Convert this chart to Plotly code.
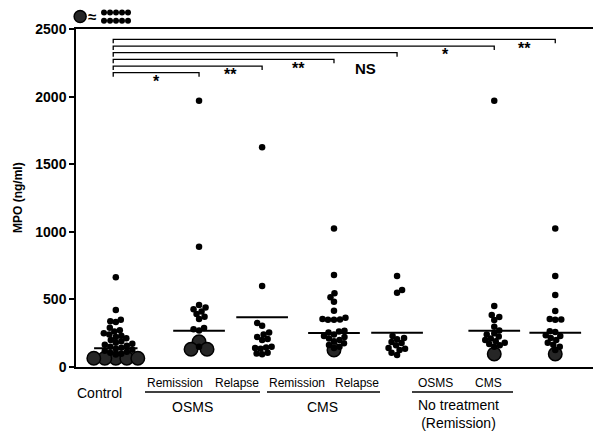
import plotly.graph_objects as go

# ---------------- data ----------------
groups = ["Control", "OSMS Remission", "OSMS Relapse", "CMS Remission",
          "CMS Relapse", "No treatment OSMS", "No treatment CMS"]

control_small = [663, 421, 350, 338, 332, 290, 272, 262, 250, 240, 232, 222, 212,
                 200, 190, 180, 172, 165, 158, 150, 142, 135, 128, 120, 112, 105, 98, 92]
control_large = [65, 65, 65, 65, 65]
osms_rem_small = [1970, 890, 459, 440, 427, 410, 392, 372, 355, 288, 280, 270, 150]
osms_rem_large = [187, 131, 131]
osms_rel_small = [1625, 600, 325, 305, 255, 240, 222, 207, 200, 150, 145, 140, 135, 105, 100, 95]
osms_rel_large = []
cms_rem_small = [1025, 680, 545, 515, 483, 416, 365, 355, 352, 350, 350, 268, 262, 255,
                 240, 229, 222, 210, 200, 190, 175, 163, 150, 140]
cms_rem_large = [126]
cms_rel_small = [673, 569, 550, 230, 215, 205, 185, 177, 160, 140, 135, 126, 105, 89]
cms_rel_large = []
nt_osms_small = [1970, 451, 385, 370, 348, 298, 270, 250, 240, 225, 210, 200, 190, 180,
                 170, 160, 150]
nt_osms_large = [96]
nt_cms_small = [1025, 673, 533, 414, 355, 352, 350, 265, 258, 235, 229, 215, 200, 180,
                165, 150, 126]
nt_cms_large = [96]

means = [138, 269, 368, 252, 254, 269, 254]

sig_heights = [2177, 2226, 2276, 2325, 2374, 2424]
sig_labels = ["*", "**", "**", "NS", "*", "**"]
sig_targets = [1, 2, 3, 4, 5, 6]

yticks = [0, 500, 1000, 1500, 2000, 2500]

small_sets = [control_small, osms_rem_small, osms_rel_small, cms_rem_small,
              cms_rel_small, nt_osms_small, nt_cms_small]
large_sets = [control_large, osms_rem_large, osms_rel_large, cms_rem_large,
              cms_rel_large, nt_osms_large, nt_cms_large]

# ---------------- layout constants ----------------
W, H = 593, 432
ML, MR, MT, MB = 76, 0, 5, 65
plot_w = W - ML - MR
plot_h = H - MT - MB
main_top_px = 29
y_dom_top = (H - MB - main_top_px) / plot_h
XMAX = 10.0
PX_PER_X = plot_w / XMAX
PX_PER_Y = (H - MB - main_top_px) / 2500.0

pos = [0.77, 2.38, 3.60, 4.99, 6.21, 8.09, 9.27]

D_SMALL, D_LARGE = 6.5, 13.5


def swarm(items):
    placed = []
    out = []
    flip = 1
    for v, d in items:
        y = v * PX_PER_Y
        best = None
        for k in range(0, 400):
            cands = [0.0] if k == 0 else [flip * k * 0.5, -flip * k * 0.5]
            for x in cands:
                ok = True
                for px, py, pd in placed:
                    if d > 10 and pd > 10:
                        f = 0.8
                    elif d > 10 or pd > 10:
                        continue  # small dots may sit on the big ones
                    else:
                        f = 0.85
                    if (x - px) ** 2 + (y - py) ** 2 < ((d + pd) / 2 * f) ** 2:
                        ok = False
                        break
                if ok:
                    best = x
                    break
            if best is not None:
                break
        flip = -flip
        placed.append((best, y, d))
        out.append(best / PX_PER_X)
    return out


sx, sy, lx, ly = [], [], [], []
for i in range(len(groups)):
    items = [(v, D_LARGE) for v in large_sets[i]] + \
            [(v, D_SMALL) for v in sorted(small_sets[i])]
    offs = swarm(items)
    nL = len(large_sets[i])
    for j, (v, d) in enumerate(items):
        if j < nL:
            lx.append(pos[i] + offs[j]); ly.append(v)
        else:
            sx.append(pos[i] + offs[j]); sy.append(v)

fig = go.Figure()

# mean lines
mx, my = [], []
for i, m in enumerate(means):
    hw = 0.42 if i == 0 else 0.5
    mx += [pos[i] - hw, pos[i] + hw, None]
    my += [m, m, None]
fig.add_trace(go.Scatter(x=mx, y=my, mode="lines", line=dict(color="black", width=2),
                         hoverinfo="skip", showlegend=False))

fig.add_trace(go.Scatter(x=lx, y=ly, mode="markers", cliponaxis=False,
                         marker=dict(size=D_LARGE, color="#262626",
                                     line=dict(color="black", width=1.5)),
                         showlegend=False))
fig.add_trace(go.Scatter(x=sx, y=sy, mode="markers", cliponaxis=False,
                         marker=dict(size=D_SMALL, color="black", line=dict(width=0)),
                         showlegend=False))

# significance brackets
bx, by = [], []
tick = 30
start = pos[0] - 0.05
for h, t in zip(sig_heights, sig_targets):
    bx += [start, start, pos[t], pos[t], None]
    by += [h - tick, h, h, h - tick, None]
fig.add_trace(go.Scatter(x=bx, y=by, mode="lines", line=dict(color="black", width=1.3),
                         hoverinfo="skip", showlegend=False))

annotations = []
for k, (h, lab, t) in enumerate(zip(sig_heights, sig_labels, sig_targets)):
    prev = pos[t - 1] if t > 1 else start
    xm = (prev + pos[t]) / 2
    if lab == "NS":
        annotations.append(dict(x=xm, y=h - 40, xref="x", yref="y", text="NS",
                                showarrow=False, yanchor="top",
                                font=dict(size=15, color="black", family="Liberation Sans",
                                          weight="bold")))
    else:
        annotations.append(dict(x=xm, y=h + 12, xref="x", yref="y", text=lab,
                                showarrow=False, yanchor="top",
                                font=dict(size=16, color="black", family="Liberation Sans",
                                          weight="bold")))

# legend key (big circle = 10 dots)
key_dx = [0.542 + 0.116 * c for c in range(5)] * 2
key_dy = [0.66] * 5 + [0.28] * 5
fig.add_trace(go.Scatter(x=[0.08], y=[0.47], xaxis="x2", yaxis="y2", mode="markers",
                         cliponaxis=False,
                         marker=dict(size=12, color="#262626", line=dict(color="black", width=1.5)),
                         showlegend=False, hoverinfo="skip"))
fig.add_trace(go.Scatter(x=key_dx, y=key_dy, xaxis="x2", yaxis="y2", mode="markers",
                         cliponaxis=False,
                         marker=dict(size=6, color="black"), showlegend=False,
                         hoverinfo="skip"))
annotations.append(dict(x=0.30, y=0.47, xref="x2", yref="y2", text="≈", showarrow=False,
                        font=dict(size=15, color="black", family="Liberation Sans",
                                  weight="bold")))


def py_paper(p):
    return (H - MB - p) / plot_h


def xu(p):
    return (p - ML) / PX_PER_X


lab_font = dict(family="Liberation Sans", color="black")
sub_labels = [("Remission", 175), ("Relapse", 237), ("Remission", 297), ("Relapse", 357),
              ("OSMS", 435), ("CMS", 488)]
for txt, xp in sub_labels:
    annotations.append(dict(x=xu(xp), y=py_paper(383), xref="x", yref="paper", text=txt,
                            showarrow=False, yanchor="middle", xanchor="center",
                            font=dict(size=12, **lab_font)))
annotations.append(dict(x=xu(99), y=py_paper(393), xref="x", yref="paper", text="Control",
                        showarrow=False, yanchor="middle", xanchor="center",
                        font=dict(size=14, **lab_font)))
annotations.append(dict(x=xu(192), y=py_paper(407), xref="x", yref="paper", text="OSMS",
                        showarrow=False, yanchor="middle", xanchor="center",
                        font=dict(size=14, **lab_font)))
annotations.append(dict(x=xu(322), y=py_paper(407), xref="x", yref="paper", text="CMS",
                        showarrow=False, yanchor="middle", xanchor="center",
                        font=dict(size=14, **lab_font)))
annotations.append(dict(x=xu(458), y=py_paper(414), xref="x", yref="paper",
                        text="No treatment<br>(Remission)",
                        showarrow=False, yanchor="middle", xanchor="center",
                        font=dict(size=14, **lab_font)))
annotations.append(dict(x=(18 - ML) / plot_w, y=y_dom_top / 2, xref="paper", yref="paper",
                        text="MPO (ng/ml)", textangle=-90, showarrow=False,
                        xanchor="center", yanchor="middle",
                        font=dict(size=12, family="Liberation Sans", color="black",
                                  weight="bold")))

shapes = []
for a, b in [(145, 260), (267, 380), (412, 513)]:
    shapes.append(dict(type="line", xref="x", yref="paper", x0=xu(a), x1=xu(b),
                       y0=py_paper(392), y1=py_paper(392),
                       line=dict(color="black", width=1.5)))

fig.update_layout(
    width=W, height=H,
    margin=dict(l=ML, r=MR, t=MT, b=MB),
    paper_bgcolor="white", plot_bgcolor="white",
    xaxis=dict(range=[0, XMAX], showline=True, linecolor="black", linewidth=1.5,
               mirror=True, showticklabels=False, ticks="", showgrid=False,
               zeroline=False, domain=[0, 1]),
    yaxis=dict(range=[0, 2500], domain=[0, y_dom_top], showline=True, linecolor="black",
               linewidth=1.5, ticks="outside", ticklen=5, tickwidth=1.5,
               tickcolor="black", tickvals=yticks, showgrid=False, zeroline=False,
               automargin=False,
               tickfont=dict(size=14, family="Liberation Sans", color="black",
                             weight="bold")),
    xaxis2=dict(range=[0, XMAX], domain=[0, 1], anchor="y2", visible=False),
    yaxis2=dict(range=[0, 1], domain=[0.94, 1.0], anchor="x2", visible=False),
    annotations=annotations,
    shapes=shapes,
    showlegend=False,
)

fig.write_html("out.html", config={"displayModeBar": False},
               post_script="document.body.style.margin='0';document.body.style.padding='0';")
